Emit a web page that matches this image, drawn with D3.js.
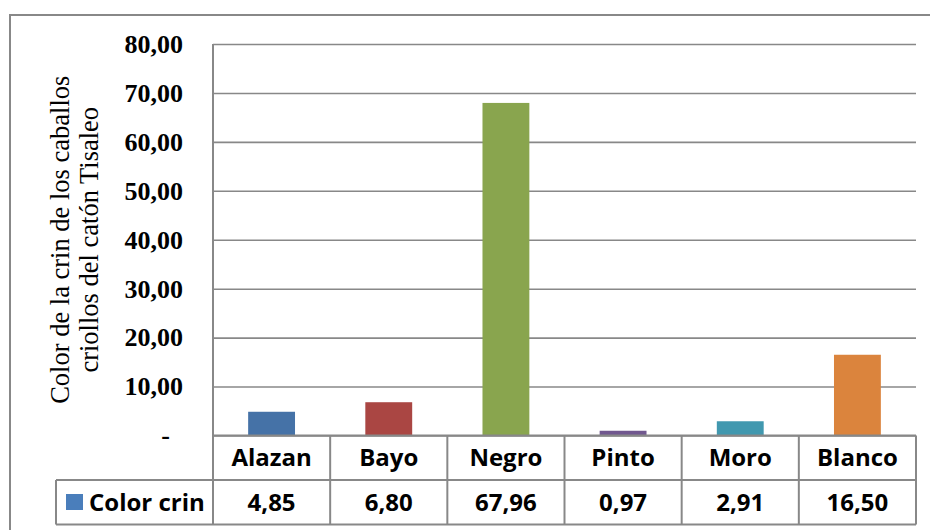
<!DOCTYPE html>
<html>
<head>
<meta charset="utf-8">
<script src="https://cdn.jsdelivr.net/npm/d3@7"></script>
<style>
  html, body { margin: 0; padding: 0; background: #fff; }
  svg { display: block; }
</style>
</head>
<body>
<svg id="chart" width="930" height="530"></svg>
<script>
// Horse mane colour shares (%) for the Tisaleo canton
const categories = ["Alazan", "Bayo", "Negro", "Pinto", "Moro", "Blanco"];
const values = [4.85, 6.80, 67.96, 0.97, 2.91, 16.50];
const barColors = ["#4572A7", "#AA4643", "#89A54E", "#71588F", "#4198AF", "#DB843D"];
const yTicks = [0, 10, 20, 30, 40, 50, 60, 70, 80];
const seriesName = "Color crin";
const axisTitle = ["Color de la crin de los caballos", "criollos del catón Tisaleo"];

const svg = d3.select("#chart");
const grey = "#888888";
const fmt = v => d3.format(".2f")(v).replace(".", ",");

// frame around the whole chart
svg.append("rect")
  .attr("x", 10).attr("y", 15).attr("width", 940).attr("height", 540)
  .attr("fill", "none").attr("stroke", grey).attr("stroke-width", 2);

const plot = { left: 213, right: 916, top: 44, bottom: 435.5 };
const rowH = 44.5;       // data table row height
const legendLeft = 56;   // left edge of the legend cell

const x = d3.scaleBand().domain(categories).range([plot.left, plot.right]).padding(0);
const y = d3.scaleLinear().domain([0, 80]).range([plot.bottom, plot.top]);

// value axis with gridlines
const yAxis = d3.axisLeft(y)
  .tickValues(yTicks)
  .tickSize(-(plot.right - plot.left))
  .tickPadding(30)
  .tickFormat(d => d === 0 ? "-" : fmt(d));

const gy = svg.append("g").attr("transform", `translate(${plot.left},0)`).call(yAxis);
gy.select(".domain").remove();
gy.selectAll(".tick line").attr("stroke", grey).attr("stroke-width", 1.6);
gy.selectAll(".tick text")
  .attr("fill", "#000")
  .style("font-family", "'Liberation Serif', 'Times New Roman', serif")
  .style("font-weight", "bold")
  .style("font-size", "26px");
gy.selectAll(".tick").filter(d => d === 0).select("text").attr("x", -43);

// bars (40% of the category width, centred)
const barW = x.bandwidth() * 0.4;
svg.append("g").selectAll("rect")
  .data(categories)
  .join("rect")
  .attr("x", d => x(d) + (x.bandwidth() - barW) / 2)
  .attr("width", barW)
  .attr("y", (d, i) => y(values[i]))
  .attr("height", (d, i) => y(0) - y(values[i]))
  .attr("fill", (d, i) => barColors[i]);

// zero line
svg.append("line")
  .attr("x1", plot.left).attr("x2", plot.right)
  .attr("y1", y(0)).attr("y2", y(0))
  .attr("stroke", grey).attr("stroke-width", 2.2);

// data table grid
const t = svg.append("g").attr("stroke", grey).attr("stroke-width", 2).attr("fill", "none");
const row1 = y(0), row2 = y(0) + rowH, row3 = y(0) + 2 * rowH;
t.append("line").attr("x1", legendLeft).attr("x2", plot.right).attr("y1", row2).attr("y2", row2);
t.append("line").attr("x1", legendLeft).attr("x2", plot.right).attr("y1", row3).attr("y2", row3);
t.append("line").attr("x1", legendLeft).attr("x2", legendLeft).attr("y1", row2).attr("y2", row3);
t.append("line").attr("x1", plot.left).attr("x2", plot.left).attr("y1", plot.top).attr("y2", row3);
t.selectAll(".col")
  .data(categories)
  .join("line")
  .attr("x1", d => x(d) + x.bandwidth()).attr("x2", d => x(d) + x.bandwidth())
  .attr("y1", row1).attr("y2", row3);

const sans = "'Open Sans', Lato, sans-serif";
const tableText = svg.append("g")
  .style("font-family", sans).style("font-weight", "bold").style("font-size", "24px")
  .attr("fill", "#000").attr("text-anchor", "middle");

tableText.selectAll(".cat")
  .data(categories)
  .join("text")
  .attr("x", d => x(d) + x.bandwidth() / 2)
  .attr("y", row1 + rowH / 2)
  .attr("dy", "0.36em")
  .text(d => d);

tableText.selectAll(".val")
  .data(categories)
  .join("text")
  .attr("x", d => x(d) + x.bandwidth() / 2)
  .attr("y", row2 + rowH / 2)
  .attr("dy", "0.36em")
  .text((d, i) => fmt(values[i]));

// legend key in the table
svg.append("rect")
  .attr("x", 66).attr("y", row2 + 14).attr("width", 17).attr("height", 16)
  .attr("fill", "#4A7EBB");
tableText.append("text")
  .attr("text-anchor", "start")
  .attr("x", 89).attr("y", row2 + rowH / 2).attr("dy", "0.36em")
  .text(seriesName);

// rotated value-axis title
const cy = (plot.top + plot.bottom) / 2;
const title = svg.append("text")
  .attr("transform", `translate(69,${cy}) rotate(-90)`)
  .attr("text-anchor", "middle")
  .style("font-family", "'Liberation Serif', 'Times New Roman', serif")
  .style("font-size", "26.5px")
  .attr("fill", "#000");
title.selectAll("tspan")
  .data(axisTitle)
  .join("tspan")
  .attr("x", 0)
  .attr("y", (d, i) => i * 29)
  .text(d => d);
</script>
</body>
</html>
